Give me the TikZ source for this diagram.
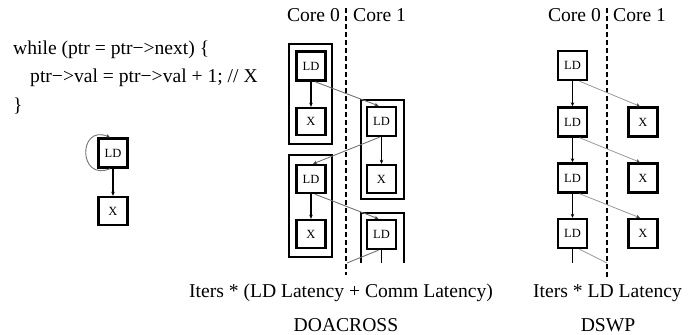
\documentclass[tikz,border=0pt]{standalone}
\usepackage{fontspec}
\setmainfont{Liberation Serif}
\usetikzlibrary{arrows.meta}
\begin{document}
\begin{tikzpicture}[x=1pt,y=-1pt,
  txt/.style={font=\fontsize{19.6}{23}\selectfont, inner sep=0pt},
  opbox/.style={draw, line width=2.4pt, minimum width=29pt, minimum height=29pt, inner sep=0pt, font=\fontsize{12.5}{14}\selectfont},
  outer/.style={draw, line width=2.2pt},
  dep/.style={line width=1.6pt, -{Stealth[length=4pt,width=3.5pt]}},
  comm/.style={black!55, line width=0.9pt, -{Stealth[length=4pt,width=3.5pt,color=black!75]}},
  lcomm/.style={black!40, line width=0.8pt, -{Stealth[length=4pt,width=3.5pt,color=black!75]}},
  core/.style={line width=1.3pt, dash pattern=on 5pt off 3pt},
  plain/.style={line width=1.6pt}]
\useasboundingbox (0,0) rectangle (697,335);

% ---- code and PDG ----
\node[txt, anchor=west] (c1) at (13,50) {while (ptr = ptr−>next) \{};
\node[txt, anchor=west] (c2) at (30,78) {ptr−>val = ptr−>val + 1; // X};
\node[txt, anchor=west] (c3) at (13,106) {\}};
\node[opbox] (p0) at (113,153) {LD};
\node[opbox, minimum height=28pt] (px) at (113,211) {X};
\draw[dep] (p0) -- (px);
\draw[comm] ([xshift=-3pt]p0.south) .. controls (78,182) and (78,124) .. ([xshift=-3pt]p0.north);

% ---- DOACROSS ----
\node[txt, anchor=east] (a0) at (340,15) {Core 0};
\node[txt, anchor=west] (a1) at (353,15) {Core 1};
\coordinate (atop) at (346,8);
\coordinate (abot) at (346,275);
\draw[core] (atop) -- (abot);

\node[outer, minimum width=43pt, minimum height=100pt, inner sep=0pt] (o1) at (310.5,94) {};
\node[outer, minimum width=43pt, minimum height=99pt, inner sep=0pt] (o2) at (382.5,149.5) {};
\node[outer, minimum width=43pt, minimum height=102pt, inner sep=0pt] (o3) at (310.5,206) {};
\coordinate (o4a) at (361,263);
\coordinate (o4b) at (361,213);
\coordinate (o4c) at (404,213);
\coordinate (o4d) at (404,263);
\draw[line width=2.2pt] (o4a) -- (o4b) -- (o4c) -- (o4d);

\node[opbox] (l1) at (311,66) {LD};
\node[opbox, minimum height=27pt] (x1) at (311,121.5) {X};
\node[opbox] (l2) at (381.5,121.5) {LD};
\node[opbox, minimum height=28pt] (x2) at (381.5,179) {X};
\node[opbox, minimum height=28pt] (l3) at (311,179) {LD};
\node[opbox, minimum height=28pt] (x3) at (311,234) {X};
\node[opbox] (l4) at (381.5,234.5) {LD};
\coordinate (l4end) at (381.5,263);
\coordinate (l4comm) at (347,263);

\draw[dep] (l1) -- (x1);
\draw[dep] (l2) -- (x2);
\draw[dep] (l3) -- (x3);
\draw[plain] (l4.south) -- (l4end);
\draw[comm] ([xshift=4pt]l1.south) -- ([xshift=-3pt]l2.north);
\draw[comm] ([xshift=-2pt]l2.south) -- ([xshift=2pt]l3.north);
\draw[comm] ([xshift=4pt]l3.south) -- ([xshift=-3pt]l4.north);
\draw[black!55, line width=0.9pt] ([xshift=-3pt]l4.south) -- (l4comm);

\node[txt] (aform) at (341,293) {Iters * (LD Latency + Comm Latency)};
\node[txt] (aname) at (346,325) {DOACROSS};

% ---- DSWP ----
\node[txt, anchor=east] (d0) at (601,15) {Core 0};
\node[txt, anchor=west] (d1) at (613,15) {Core 1};
\coordinate (dtop) at (607,8);
\coordinate (dbot) at (607,277);
\draw[core] (dtop) -- (dbot);

\node[opbox] (s1) at (572.5,65.5) {LD};
\node[opbox] (s2) at (572.5,122) {LD};
\node[opbox] (s3) at (572.5,178) {LD};
\node[opbox] (s4) at (572.5,233.5) {LD};
\node[opbox] (y2) at (643,122) {X};
\node[opbox] (y3) at (643,178) {X};
\node[opbox] (y4) at (643,233.5) {X};
\coordinate (s4end) at (572.5,263);
\coordinate (s4comm) at (607,263);

\draw[dep] (s1) -- (s2);
\draw[dep] (s2) -- (s3);
\draw[dep] (s3) -- (s4);
\draw[plain] (s4.south) -- (s4end);
\draw[lcomm] ([xshift=7pt]s1.south) -- ([xshift=-3pt]y2.north);
\draw[lcomm] ([xshift=7pt]s2.south) -- ([xshift=-3pt]y3.north);
\draw[lcomm] ([xshift=7pt]s3.south) -- ([xshift=-3pt]y4.north);
\draw[black!40, line width=0.8pt] ([xshift=7pt]s4.south) -- (s4comm);

\node[txt] (dform) at (607.5,293) {Iters * LD Latency};
\node[txt] (dname) at (608,325) {DSWP};
\end{tikzpicture}
\end{document}
